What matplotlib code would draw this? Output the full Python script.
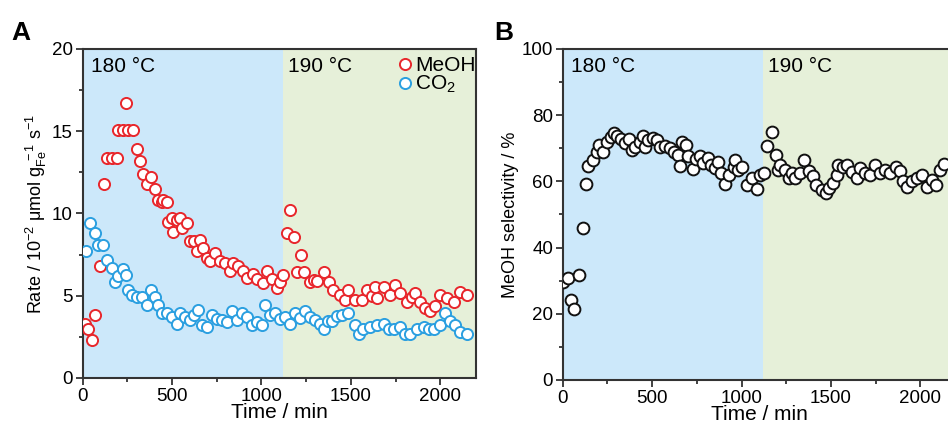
import numpy as np
import matplotlib
matplotlib.use("Agg")
from matplotlib import pyplot as plt
from matplotlib.ticker import MultipleLocator

# MeOH formation rate (10^-2 umol gFe^-1 s^-1)
t_meoh = [0, 15, 30, 50, 70, 95, 121, 134, 162, 190, 199, 227, 242, 255, 283,
          302, 321, 339, 358, 382, 405, 423, 442, 451, 470, 479, 498, 507, 526,
          545, 554, 582, 600, 620, 638, 656, 675, 694, 712, 740, 768, 796, 824,
          843, 870, 899, 918, 955, 974, 1010, 1030, 1058, 1086, 1104, 1123,
          1141, 1160, 1179, 1197, 1222, 1240, 1272, 1291, 1310, 1347, 1375,
          1402, 1440, 1468, 1486, 1524, 1561, 1589, 1617, 1636, 1645, 1683,
          1720, 1748, 1776, 1813, 1840, 1860, 1888, 1915, 1944, 1972, 2000,
          2038, 2074, 2111, 2149]
r_meoh = [3.2, 3.3, 3.0, 2.3, 3.8, 6.8, 11.8, 13.4, 13.4, 13.4, 15.1, 15.1, 16.7,
          15.1, 15.1, 13.9, 13.2, 12.4, 11.8, 12.2, 11.5, 10.8, 10.7, 10.8, 10.7,
          9.5, 9.7, 8.9, 9.6, 9.7, 9.1, 9.4, 8.3, 8.3, 7.7, 8.4, 7.9, 7.3, 7.1,
          7.6, 7.1, 7.0, 6.5, 7.0, 6.8, 6.5, 6.1, 6.3, 6.0, 5.75, 6.5, 6.0, 5.45,
          5.85, 6.25, 8.8, 10.2, 8.6, 6.45, 7.5, 6.45, 5.85, 5.95, 5.9, 6.45, 5.85,
          5.35, 5.05, 4.75, 5.35, 4.75, 4.75, 5.35, 5.0, 5.55, 4.85, 5.55, 5.05,
          5.65, 5.15, 4.65, 4.9, 5.15, 4.65, 4.25, 4.1, 4.4, 5.05, 4.85, 4.65,
          5.25, 5.05]

# CO2 formation rate
t_co2 = [18, 41, 69, 87, 115, 134, 162, 181, 200, 224, 243, 255, 274, 302, 330,
         358, 380, 405, 423, 442, 470, 498, 526, 545, 573, 600, 620, 643, 666,
         694, 722, 750, 778, 806, 834, 862, 890, 918, 946, 974, 1002, 1020,
         1048, 1076, 1104, 1132, 1160, 1188, 1216, 1244, 1272, 1300, 1328,
         1350, 1370, 1393, 1421, 1449, 1486, 1524, 1543, 1570, 1608, 1645,
         1683, 1711, 1739, 1776, 1804, 1832, 1869, 1907, 1935, 1963, 2000,
         2028, 2056, 2084, 2111, 2149]
r_co2 = [7.7, 9.4, 8.8, 8.1, 8.1, 7.2, 6.7, 5.85, 6.2, 6.65, 6.25, 5.35, 5.05,
         4.95, 4.95, 4.45, 5.35, 4.95, 4.45, 3.95, 3.95, 3.7, 3.3, 3.95, 3.7,
         3.5, 3.85, 4.15, 3.2, 3.1, 3.85, 3.6, 3.5, 3.4, 4.05, 3.5, 3.95, 3.7,
         3.2, 3.4, 3.2, 4.45, 3.85, 3.95, 3.6, 3.7, 3.3, 3.95, 3.65, 4.05, 3.7,
         3.55, 3.3, 3.0, 3.45, 3.45, 3.75, 3.85, 3.95, 3.25, 2.7, 3.0, 3.1, 3.2,
         3.3, 3.0, 2.95, 3.1, 2.7, 2.7, 2.95, 3.1, 3.0, 2.95, 3.2, 3.95, 3.45,
         3.25, 2.8, 2.7]

# MeOH selectivity (%)
t_sel = [3, 31, 45, 65, 91, 112, 130, 143, 171, 190, 205, 227, 246, 268, 287,
         302, 324, 349, 373, 386, 405, 430, 448, 460, 479, 504, 526, 545, 573,
         600, 624, 647, 653, 666, 690, 703, 727, 746, 768, 787, 811, 830, 852,
         871, 884, 908, 927, 955, 964, 980, 1002, 1030, 1058, 1089, 1104, 1126,
         1145, 1169, 1194, 1206, 1216, 1244, 1263, 1281, 1300, 1328, 1350, 1375,
         1400, 1419, 1448, 1472, 1490, 1513, 1532, 1541, 1569, 1588, 1616, 1644,
         1663, 1690, 1718, 1747, 1775, 1803, 1831, 1864, 1887, 1902, 1924, 1952,
         1980, 2008, 2036, 2064, 2088, 2107, 2134]
s_sel = [29.7, 30.7, 24.2, 21.4, 31.7, 45.8, 59.1, 64.7, 66.5, 69, 71, 69, 72,
         73.5, 74.7, 73.7, 72.7, 71.5, 72.7, 69.5, 70.5, 72, 73.7, 70.5, 72.5,
         73.2, 72.5, 70.5, 70.7, 70, 69, 68, 64.6, 72, 71, 67.8, 63.6, 66.8,
         67.6, 65.6, 67, 65, 64, 65.8, 62.6, 59.2, 62, 64.4, 66.5, 63.5, 64.4,
         58.9, 60.9, 57.6, 62, 62.4, 70.7, 75, 68, 63.5, 65, 63.5, 61, 62.5, 61,
         62.5, 66.5, 63, 61.5, 58.9, 57.4, 56.6, 57.9, 59.4, 62, 64.9, 64.4,
         64.9, 62.9, 61, 63.9, 62.5, 62, 64.9, 62.5, 63.5, 62.5, 64.4, 63, 60,
         58.4, 60, 61, 62, 58.4, 60.5, 59, 63.5, 65.2]

T_SWITCH = 1120
BLUE_BG = "#cce8fa"
GREEN_BG = "#e6f0d9"
SPINE = "#333333"

plt.rcParams["font.family"] = ["Liberation Sans", "DejaVu Sans"]
plt.rcParams["mathtext.fontset"] = "custom"
plt.rcParams["mathtext.rm"] = "Liberation Sans"
plt.rcParams["mathtext.it"] = "Liberation Sans:italic"
plt.rcParams["font.size"] = 13


def style_axes(ax, xmax, ymax, ymaj, ymin):
    ax.axvspan(0, T_SWITCH, color=BLUE_BG, lw=0, zorder=0)
    ax.axvspan(T_SWITCH, xmax, color=GREEN_BG, lw=0, zorder=0)
    ax.set_xlim(0, xmax)
    ax.set_ylim(0, ymax)
    ax.xaxis.set_major_locator(MultipleLocator(500))
    ax.xaxis.set_minor_locator(MultipleLocator(250))
    ax.yaxis.set_major_locator(MultipleLocator(ymaj))
    ax.yaxis.set_minor_locator(MultipleLocator(ymin))
    for s in ax.spines.values():
        s.set_color(SPINE)
        s.set_linewidth(1.5)
    ax.tick_params(which="both", direction="out", color=SPINE, width=1.3,
                   labelsize=13.5, pad=2)
    ax.tick_params(which="major", length=5)
    ax.tick_params(which="minor", length=3)
    ax.set_xlabel("Time / min", fontsize=15, labelpad=-1)
    ax.text(0.022, 0.975, "180 °C", transform=ax.transAxes, ha="left", va="top",
            fontsize=15)
    ax.text(T_SWITCH + 30, ymax * 0.975, "190 °C", ha="left", va="top",
            fontsize=15)


def main():
    fig = plt.figure(figsize=(9.48, 4.32), dpi=100)

    # A: rates
    ax1 = fig.add_axes([0.0872, 0.125, 0.415, 0.7616])
    style_axes(ax1, 2200, 20, 5, 2.5)
    ax1.plot(t_meoh, r_meoh, "o", ms=8, mfc="white", mec="#e8262b", mew=1.4,
             label="MeOH", zorder=3)
    ax1.plot(t_co2, r_co2, "o", ms=8, mfc="white", mec="#2a9fe0", mew=1.4,
             label=r"CO$_2$", zorder=3)
    ax1.set_ylabel(r"Rate / 10$^{-2}$ μmol g$_{\mathrm{Fe}}^{\ -1}$ s$^{-1}$",
                   fontsize=13, labelpad=2)
    ax1.legend(loc="upper right", bbox_to_anchor=(1.005, 0.985), frameon=False,
               fontsize=15, handletextpad=0.0, borderaxespad=0.0, borderpad=0.1,
               labelspacing=-0.05, handlelength=1.0)

    # B: selectivity
    ax2 = fig.add_axes([0.5936, 0.1204, 0.415, 0.7662])
    style_axes(ax2, 2200, 100, 20, 10)
    ax2.plot(t_sel, s_sel, "o", ms=8.5, mfc="white", mec="#111111", mew=1.4,
             zorder=3)
    ax2.set_ylabel("MeOH selectivity / %", fontsize=13, labelpad=2)

    fig.text(0.012, 0.908, "A", fontsize=19, fontweight="bold")
    fig.text(0.521, 0.908, "B", fontsize=19, fontweight="bold")

    fig.savefig("out.png", dpi=100)


if __name__ == "__main__":
    main()
